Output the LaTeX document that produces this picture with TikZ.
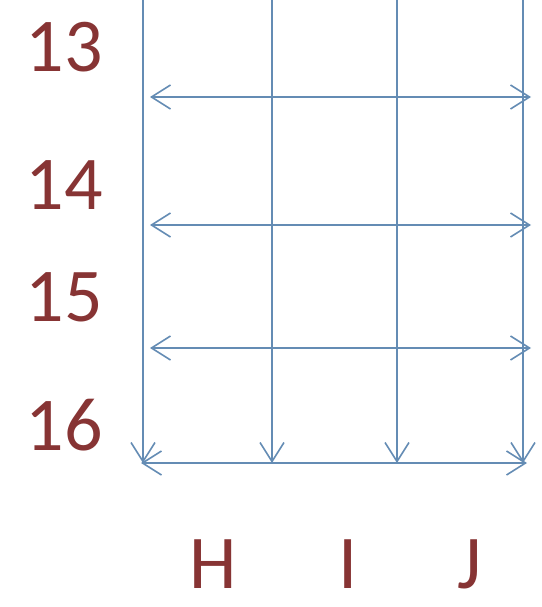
\documentclass[tikz,border=0pt]{standalone}
\usepackage{fontspec}
\setmainfont{Carlito}
\usetikzlibrary{arrows.meta}
\definecolor{lbl}{RGB}{135,52,52}
\definecolor{ln}{RGB}{100,140,180}
\begin{document}
\begin{tikzpicture}[x=1pt,y=-1pt,
  lab/.style={text=lbl,font=\fontsize{76}{80}\selectfont,inner sep=0pt},
  grid/.style={draw=ln,line width=1.6pt},
  barb/.tip={Straight Barb[length=19pt,width=24pt,line width=1.6pt]},
  tip/.style={-barb},
  tips/.style={barb-barb}]
\useasboundingbox (0,0) rectangle (541,607);
\fill[white] (0,0) rectangle (541,607);
% labels
\node[lab,anchor=east] (n13) at (103,47) {13};
\node[lab,anchor=east] (n14) at (103,185) {14};
\node[lab,anchor=east] (n15) at (103,297) {15};
\node[lab,anchor=east] (n16) at (103,425) {16};
\node[lab] (cH) at (213,564) {H};
\node[lab] (cI) at (348,564) {I};
\node[lab] (cJ) at (470,564) {J};
% coordinates
\coordinate (t1) at (143,0);
\coordinate (t2) at (272,0);
\coordinate (t3) at (397,0);
\coordinate (t4) at (523,0);
\coordinate (b1) at (143,463);
\coordinate (b2) at (272,463);
\coordinate (b3) at (397,463);
\coordinate (b4) at (523,463);
\coordinate (bl) at (141,463);
\coordinate (br) at (527,463);
\coordinate (l1) at (150,97);
\coordinate (r1) at (531,97);
\coordinate (l2) at (150,225);
\coordinate (r2) at (531,225);
\coordinate (l3) at (150,348);
\coordinate (r3) at (531,348);
% verticals
\draw[grid,tip] (t1) -- (b1);
\draw[grid,tip] (t2) -- (b2);
\draw[grid,tip] (t3) -- (b3);
\draw[grid,tip] (t4) -- (b4);
% horizontals
\draw[grid,tips] (l1) -- (r1);
\draw[grid,tips] (l2) -- (r2);
\draw[grid,tips] (l3) -- (r3);
\draw[grid,tips] (bl) -- (br);
\end{tikzpicture}
\end{document}
